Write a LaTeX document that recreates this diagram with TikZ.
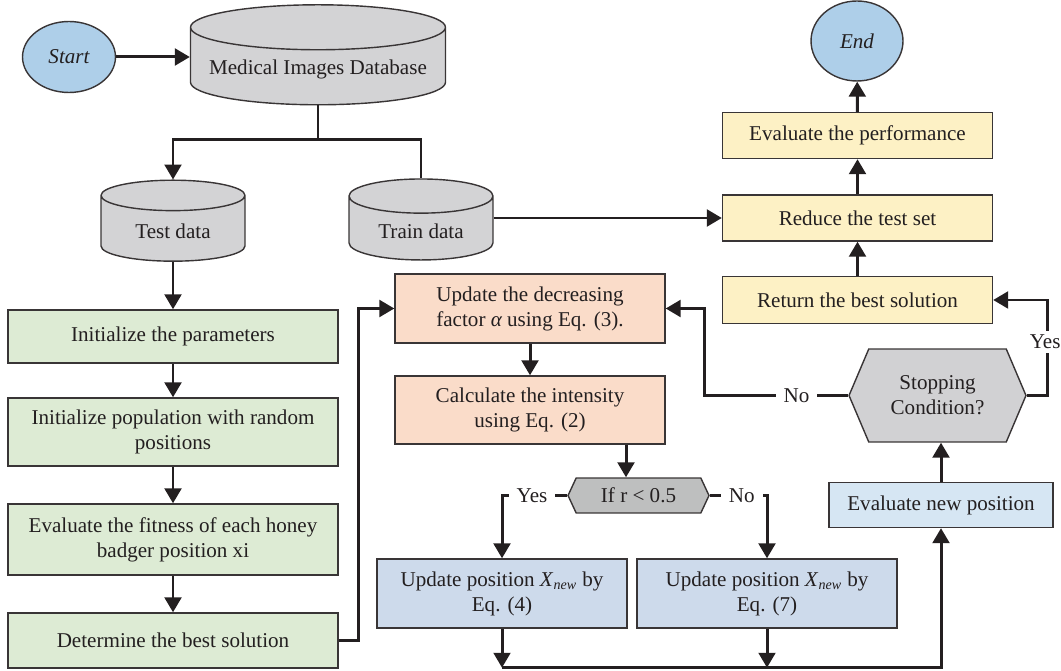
\documentclass[tikz,border=0pt]{standalone}
\usepackage{fontspec}
\setmainfont{Liberation Serif}
\usetikzlibrary{shapes.geometric,shapes.symbols,arrows.meta,calc}

\definecolor{linecol}{RGB}{35,31,32}
\definecolor{termblue}{RGB}{174,207,233}
\definecolor{dbgray}{RGB}{211,211,213}
\definecolor{stopgray}{RGB}{209,209,211}
\definecolor{condgray}{RGB}{190,191,191}
\definecolor{yellowbox}{RGB}{253,241,197}
\definecolor{greenbox}{RGB}{221,235,212}
\definecolor{peachbox}{RGB}{250,220,201}
\definecolor{bluebox}{RGB}{205,218,235}
\definecolor{skybox}{RGB}{214,230,243}

\tikzset{
  base/.style={draw=linecol!90, line width=0.8pt, align=center, inner sep=2pt,
    font=\fontsize{12}{14.2}\selectfont, text=linecol},
  term/.style={base, ellipse, fill=termblue},
  db/.style={base, cylinder, shape border rotate=90, fill=dbgray},
  box/.style={base, rectangle, minimum width=#1},
  cond/.style={base, signal, signal to=east and west, signal pointer angle=130},
  arr/.style={draw=linecol, line width=1.7pt, -{Triangle[length=8.5pt,width=9.5pt]}},
  link/.style={draw=linecol, line width=1.7pt},
  lbl/.style={fill=white, inner xsep=4.5pt, inner ysep=2.5pt, font=\fontsize{12}{14.2}\selectfont, text=linecol}
}

\begin{document}
\begin{tikzpicture}[x=0.02cm, y=-0.02cm]
        \useasboundingbox (0,0) rectangle (1061,671);
        % Start, database and data sets
        \node[term, minimum width=1.86cm, minimum height=1.42cm] (start) at (69,57) {\itshape Start};
        \node[db, minimum width=5.1cm, minimum height=2.0cm, aspect=0.2] (db) at (318,69) {Medical Images Database};
        \node[db, minimum width=2.88cm, minimum height=1.62cm, aspect=0.37] (test) at (173,231) {Test data};
        \node[db, minimum width=2.88cm, minimum height=1.62cm, aspect=0.37] (train) at (421,231) {Train data};
        % Left column
        \node[box=6.6cm, minimum height=1.06cm, fill=greenbox] (init) at (173,336.5) {Initialize the parameters};
        \node[box=6.6cm, minimum height=1.36cm, fill=greenbox] (pop) at (173,432) {Initialize population with random\\positions};
        \node[box=6.6cm, minimum height=1.42cm, fill=greenbox] (fitness) at (173,539.5) {Evaluate the fitness of each honey\\badger position xi};
        \node[box=6.6cm, minimum height=1.1cm, fill=greenbox] (best) at (173,640.5) {Determine the best solution};
        % Middle column
        \node[box=5.4cm, minimum height=1.38cm, fill=peachbox] (alpha) at (530,308.5) {Update the decreasing\\factor {\itshape α} using Eq. (3).};
        \node[box=5.4cm, minimum height=1.36cm, fill=peachbox] (intensity) at (530,410) {Calculate the intensity\\using Eq. (2)};
        \node[cond, minimum width=2.82cm, minimum height=0.7cm, fill=condgray] (ifr) at (638.5,495.5) {If r < 0.5};
        \node[box=5cm, minimum height=1.38cm, fill=bluebox] (pos4) at (502,593.5) {Update position \textit{X}\textsubscript{\textit{new}} by\\Eq. (4)};
        \node[box=5.2cm, minimum height=1.38cm, fill=bluebox] (pos7) at (767,593.5) {Update position \textit{X}\textsubscript{\textit{new}} by\\Eq. (7)};
        % Right column
        \node[term, minimum width=1.84cm, minimum height=1.6cm] (finish) at (857,41) {\itshape End};
        \node[box=5.4cm, minimum height=0.92cm, fill=yellowbox] (perf) at (857.5,135.5) {Evaluate the performance};
        \node[box=5.4cm, minimum height=0.92cm, fill=yellowbox] (reduce) at (857.5,218) {Reduce the test set};
        \node[box=5.4cm, minimum height=0.94cm, fill=yellowbox] (ret) at (857.5,300) {Return the best solution};
        \node[cond, minimum width=3.54cm, minimum height=1.86cm, signal pointer angle=134, fill=stopgray] (stop) at (937.5,395.5) {Stopping\\Condition?};
        \node[box=4.48cm, minimum height=0.9cm, fill=skybox] (evalnew) at (941,505) {Evaluate new position};
        % Connectors
        \coordinate (split) at (318,140);
        \coordinate (cx) at (626,0);
        \draw[arr] (start.east) -- (start.east -| db.west);
        \draw[arr] (db.south) -- (split) -| (test.north);
        \draw[link] (split) -| (train.north);
        \draw[arr] (reduce.west -| train.east) -- (reduce.west);
        \draw[arr] (test.south) -- (init.north);
        \draw[arr] (init) -- (pop);
        \draw[arr] (pop) -- (fitness);
        \draw[arr] (fitness) -- (best);
        \draw[arr] (best.east) -- ++(20,0) |- (alpha.west);
        \draw[arr] (alpha) -- (intensity);
        \draw[arr] (intensity.south -| cx) -- (ifr.north -| cx);
        \draw[arr] (ifr.west) -| node[lbl, pos=0.27] {Yes} (pos4.north);
        \draw[arr] (ifr.east) -| node[lbl, pos=0.28] {No} (pos7.north);
        \draw[arr] (pos4.south) -- ++(0,39) coordinate (join);
        \draw[arr] (pos7.south) -- ++(0,39);
        \draw[arr] (join) -| (evalnew.south);
        \draw[arr] (evalnew.north) -- (evalnew.north |- stop.south);
        \draw[arr] (stop.east) -- ++(21,0) |- node[lbl, pos=0.28, xshift=-1.5pt] {Yes} (ret.east);
        \draw[arr] (stop.west) -- node[lbl, pos=0.36] {No} ++(-144,0) |- (alpha.east);
        \draw[arr] (ret) -- (reduce);
        \draw[arr] (reduce) -- (perf);
        \draw[arr] (perf) -- (finish);
\end{tikzpicture}
\end{document}
